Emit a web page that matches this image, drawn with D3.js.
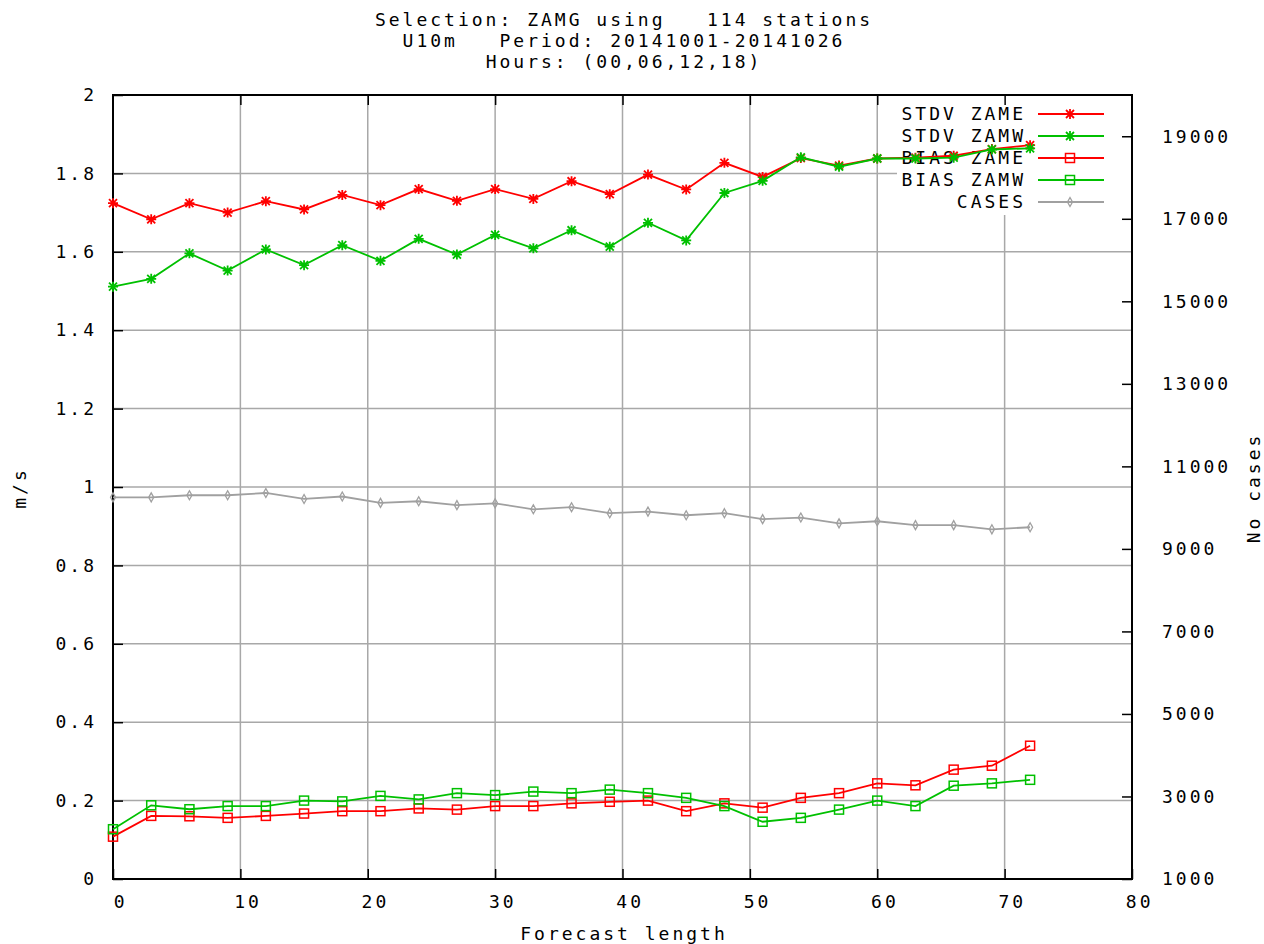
<!DOCTYPE html>
<html>
<head>
<meta charset="utf-8">
<script src="https://cdn.jsdelivr.net/npm/d3@7"></script>
<style>
  body { margin: 0; background: #fff; }
  svg text { font-family: "DejaVu Sans Mono", monospace; font-size: 18px; letter-spacing: 3px; fill: #000; white-space: pre; }
</style>
</head>
<body>
<div id="chart"></div>
<script>
// forecast lengths (hours)
const leadTimes = [0,3,6,9,12,15,18,21,24,27,30,33,36,39,42,45,48,51,54,57,60,63,66,69,72];

// m/s, left axis
const stdvZame = [1.724,1.683,1.724,1.700,1.729,1.708,1.745,1.719,1.760,1.730,1.760,1.735,1.780,1.747,1.797,1.759,1.827,1.791,1.839,1.820,1.838,1.840,1.845,1.862,1.872];
const stdvZamw = [1.511,1.531,1.596,1.552,1.606,1.566,1.617,1.577,1.633,1.593,1.643,1.609,1.655,1.613,1.674,1.629,1.750,1.781,1.841,1.817,1.838,1.838,1.840,1.861,1.864];
const biasZame = [0.108,0.161,0.160,0.156,0.161,0.167,0.173,0.173,0.180,0.177,0.186,0.186,0.193,0.197,0.200,0.173,0.193,0.182,0.207,0.219,0.244,0.239,0.279,0.289,0.340];
const biasZamw = [0.127,0.188,0.178,0.186,0.186,0.200,0.198,0.212,0.203,0.219,0.214,0.223,0.219,0.228,0.219,0.207,0.186,0.146,0.156,0.177,0.200,0.186,0.238,0.244,0.253];

// number of cases, right axis
const cases = [10250,10250,10300,10300,10355,10210,10270,10115,10155,10060,10105,9960,10010,9865,9905,9815,9865,9720,9760,9620,9670,9575,9575,9475,9525];

const titleLines = ["Selection: ZAMG using   114 stations", "U10m   Period: 20141001-20141026", "Hours: (00,06,12,18)"];
const xTicks = [0,10,20,30,40,50,60,70,80];
const yTicks = [0,0.2,0.4,0.6,0.8,1,1.2,1.4,1.6,1.8,2];
const y2Ticks = [1000,3000,5000,7000,9000,11000,13000,15000,17000,19000];

const series = [
  {name: "STDV ZAME", values: stdvZame, color: "#ff0000", mark: "star", axis: "y"},
  {name: "STDV ZAMW", values: stdvZamw, color: "#00c000", mark: "star", axis: "y"},
  {name: "BIAS ZAME", values: biasZame, color: "#ff0000", mark: "square", axis: "y"},
  {name: "BIAS ZAMW", values: biasZamw, color: "#00c000", mark: "square", axis: "y"},
  {name: "CASES", values: cases, color: "#a0a0a0", mark: "diamond", axis: "y2"}
];

const W = 1264, H = 944;
const plotL = 113, plotR = 1132, plotT = 95, plotB = 879;

const svg = d3.select("#chart").append("svg").attr("width", W).attr("height", H);

const x = d3.scaleLinear().domain([0, 80]).range([plotL, plotR]);
const y = d3.scaleLinear().domain([0, 2]).range([plotB, plotT]);
const y2 = d3.scaleLinear().domain([1000, 20000]).range([plotB, plotT]);

// title
svg.append("g").selectAll("text").data(titleLines).enter().append("text")
  .attr("x", 624).attr("y", (d, i) => 26 + i * 21)
  .attr("text-anchor", "middle")
  .text(d => d);

// grid
const grid = svg.append("g").attr("stroke", "#a8a8a8").attr("stroke-width", 1.5);
grid.selectAll(".vg").data(xTicks.slice(1, -1)).enter().append("line")
  .attr("x1", d => x(d)).attr("x2", d => x(d)).attr("y1", plotT).attr("y2", plotB);
grid.selectAll(".hg").data(yTicks.slice(1, -1)).enter().append("line")
  .attr("x1", plotL).attr("x2", plotR).attr("y1", d => y(d)).attr("y2", d => y(d));

// key background hides the grid
const keyL = 897, keyB = 215;
svg.append("rect").attr("x", keyL).attr("y", plotT).attr("width", plotR - keyL).attr("height", keyB - plotT).attr("fill", "#fff");

// axes, ticks pointing inwards
const xAxis = svg.append("g").attr("transform", "translate(0," + plotB + ")")
  .call(d3.axisBottom(x).tickValues(xTicks).tickSize(-10).tickPadding(16).tickFormat(d3.format("d")));
xAxis.selectAll("text").attr("dx", "0.4em");

svg.append("g").attr("transform", "translate(0," + plotT + ")")
  .call(d3.axisTop(x).tickValues(xTicks.slice(1, -1)).tickSize(-10).tickFormat(""));

const yAxis = svg.append("g").attr("transform", "translate(" + plotL + ",0)")
  .call(d3.axisLeft(y).tickValues(yTicks).tickSize(-10).tickPadding(16).tickFormat(d => d3.format("")(+d.toFixed(1))));

const y2Axis = svg.append("g").attr("transform", "translate(" + plotR + ",0)")
  .call(d3.axisRight(y2).tickValues(y2Ticks).tickSize(-10).tickPadding(30).tickFormat(d3.format("d")));

svg.selectAll(".domain").remove();
svg.selectAll(".tick line").attr("stroke", "#000").attr("stroke-width", 1.5);
svg.selectAll(".tick text").attr("fill", "#000");
svg.selectAll("g").filter(function() { return this.hasAttribute("font-family"); })
  .attr("font-family", null).attr("font-size", null);

// border
svg.append("rect").attr("x", plotL).attr("y", plotT).attr("width", plotR - plotL).attr("height", plotB - plotT)
  .attr("fill", "none").attr("stroke", "#000").attr("stroke-width", 2);

// axis titles
svg.append("text").attr("transform", "translate(26,488) rotate(-90)").attr("text-anchor", "middle").text("m/s");
svg.append("text").attr("transform", "translate(1260,488) rotate(-90)").attr("text-anchor", "middle").text("No cases");
svg.append("text").attr("x", 624).attr("y", 940).attr("text-anchor", "middle").text("Forecast length");

function drawMark(g, type, cx, cy, color) {
  if (type === "star") {
    const r = 5;
    g.append("path")
      .attr("d", `M${cx - r},${cy}H${cx + r}M${cx},${cy - r}V${cy + r}M${cx - r * 0.8},${cy - r * 0.8}L${cx + r * 0.8},${cy + r * 0.8}M${cx - r * 0.8},${cy + r * 0.8}L${cx + r * 0.8},${cy - r * 0.8}`)
      .attr("stroke", color).attr("stroke-width", 1.8).attr("fill", "none");
  } else if (type === "square") {
    g.append("rect").attr("x", cx - 4.5).attr("y", cy - 4.5).attr("width", 9).attr("height", 9)
      .attr("stroke", color).attr("stroke-width", 1.5).attr("fill", "none");
  } else {
    g.append("path").attr("d", `M${cx},${cy - 4.5}L${cx + 2.5},${cy}L${cx},${cy + 4.5}L${cx - 2.5},${cy}Z`)
      .attr("stroke", color).attr("stroke-width", 1.3).attr("fill", "none");
  }
}

// key
const key = svg.append("g");
series.forEach((s, i) => {
  const ky = 114 + i * 22;
  key.append("text").attr("x", 1026).attr("y", ky).attr("dy", "0.35em").attr("text-anchor", "end").text(s.name);
  key.append("line").attr("x1", 1038).attr("x2", 1104).attr("y1", ky).attr("y2", ky)
    .attr("stroke", s.color).attr("stroke-width", 1.8);
  drawMark(key, s.mark, 1070, ky, s.color);
});

// series
series.forEach(s => {
  const sc = s.axis === "y" ? y : y2;
  const pts = leadTimes.map((t, i) => [x(t), sc(s.values[i])]);
  const g = svg.append("g");
  g.append("path").attr("d", d3.line()(pts)).attr("fill", "none")
    .attr("stroke", s.color).attr("stroke-width", 1.8);
  pts.forEach(p => drawMark(g, s.mark, p[0], p[1], s.color));
});
</script>
</body>
</html>
